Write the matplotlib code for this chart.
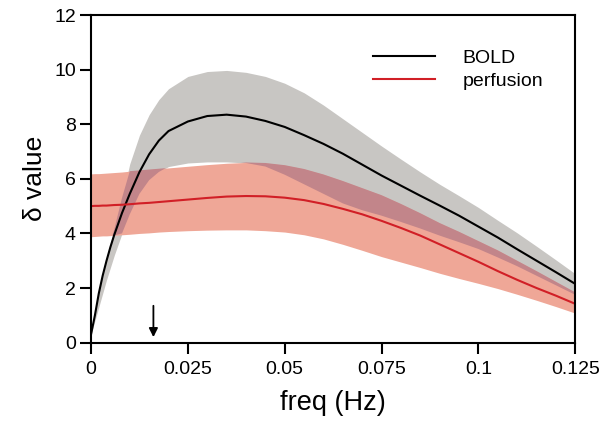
import numpy as np
import matplotlib
matplotlib.use('Agg')
import matplotlib.pyplot as plt

plt.rcParams['font.family'] = ['Liberation Sans', 'DejaVu Sans']

# frequency samples (Hz)
freq = [0, 0.001, 0.002, 0.003, 0.004, 0.005, 0.006, 0.008, 0.010, 0.0125,
        0.015, 0.0175, 0.020, 0.025, 0.030, 0.035, 0.040, 0.045, 0.050,
        0.055, 0.060, 0.065, 0.070, 0.075, 0.080, 0.085, 0.090, 0.095,
        0.100, 0.105, 0.110, 0.115, 0.120, 0.125]

bold = [0.30, 1.0, 1.8, 2.45, 3.0, 3.5, 3.95, 4.75, 5.45, 6.25,
        6.9, 7.4, 7.75, 8.1, 8.3, 8.35, 8.28, 8.12, 7.9,
        7.6, 7.28, 6.92, 6.52, 6.12, 5.75, 5.38, 5.02, 4.65,
        4.25, 3.85, 3.42, 3.0, 2.58, 2.15]
bold_hi = [0.30, 1.1, 1.95, 2.6, 3.15, 3.65, 4.15, 5.3, 6.55, 7.6,
           8.35, 8.9, 9.3, 9.75, 9.93, 9.97, 9.9, 9.75, 9.5,
           9.15, 8.7, 8.2, 7.7, 7.2, 6.72, 6.25, 5.8, 5.38,
           4.95, 4.48, 4.02, 3.53, 3.03, 2.52]
bold_lo = [0.30, 0.8, 1.3, 1.8, 2.3, 2.75, 3.2, 4.0, 4.7, 5.45,
           5.95, 6.25, 6.45, 6.58, 6.62, 6.62, 6.58, 6.45, 6.15,
           5.8, 5.45, 5.1, 4.85, 4.65, 4.42, 4.18, 3.92, 3.68,
           3.43, 3.12, 2.8, 2.45, 2.1, 1.75]

perf = [5.0, 5.01, 5.01, 5.02, 5.02, 5.03, 5.04, 5.05, 5.07, 5.1,
        5.12, 5.15, 5.18, 5.24, 5.3, 5.35, 5.37, 5.36, 5.31,
        5.22, 5.08, 4.9, 4.7, 4.46, 4.2, 3.92, 3.6, 3.28,
        2.96, 2.62, 2.3, 2.0, 1.72, 1.42]
perf_hi = [6.18, 6.19, 6.19, 6.2, 6.21, 6.22, 6.23, 6.25, 6.28, 6.31,
           6.34, 6.37, 6.4, 6.46, 6.52, 6.57, 6.6, 6.58, 6.5,
           6.36, 6.16, 5.92, 5.66, 5.4, 5.08, 4.74, 4.38, 4.06,
           3.72, 3.38, 3.0, 2.62, 2.23, 1.84]
perf_lo = [3.88, 3.89, 3.9, 3.91, 3.91, 3.92, 3.93, 3.95, 3.97, 4.0,
           4.02, 4.05, 4.07, 4.1, 4.12, 4.13, 4.13, 4.1, 4.05,
           3.95, 3.8, 3.6, 3.38, 3.15, 2.95, 2.75, 2.54, 2.35,
           2.17, 1.98, 1.77, 1.55, 1.32, 1.08]

arrow_freq = 0.0161

fig = plt.figure(figsize=(6.13, 4.23), dpi=100)
ax = fig.add_axes([0.1485, 0.19, 0.79, 0.7745])

f = np.array(freq)
ax.fill_between(f, bold_lo, bold_hi, color='#c8c6c3', lw=0)
ax.fill_between(f, perf_lo, perf_hi, color='#efa797', lw=0)
# overlap of the two bands
olo = np.maximum(bold_lo, perf_lo)
ohi = np.minimum(bold_hi, perf_hi)
ax.fill_between(f, olo, ohi, where=ohi > olo, interpolate=True,
                color='#c2858a', lw=0)

ax.plot(f, bold, color='black', lw=1.5, label='BOLD')
ax.plot(f, perf, color='#d11f26', lw=1.5, label='perfusion')

ax.annotate('', xy=(arrow_freq, 0.2), xytext=(arrow_freq, 1.35),
            arrowprops=dict(arrowstyle='-|>', color='black', lw=1.3,
                            mutation_scale=13, shrinkA=0, shrinkB=0))

ax.set_xlim(0, 0.125)
ax.set_ylim(0, 12)
ax.set_xticks([0, 0.025, 0.05, 0.075, 0.1, 0.125])
ax.set_xticklabels(['0', '0.025', '0.05', '0.075', '0.1', '0.125'])
ax.set_yticks([0, 2, 4, 6, 8, 10, 12])
ax.tick_params(labelsize=14, length=8, width=1.5, direction='out')
ax.tick_params(axis='x', pad=5)
ax.tick_params(axis='y', pad=3)
for s in ax.spines.values():
    s.set_linewidth(1.5)

ax.set_xlabel('freq (Hz)', fontsize=19.5, labelpad=9)
ax.set_ylabel('\u03b4 value', fontsize=19, labelpad=5)

ax.legend(loc='upper right', frameon=False, fontsize=14,
          handlelength=3.2, handletextpad=1.4, labelspacing=0.3,
          bbox_to_anchor=(0.97, 0.95))

fig.savefig('out.png', dpi=100)
